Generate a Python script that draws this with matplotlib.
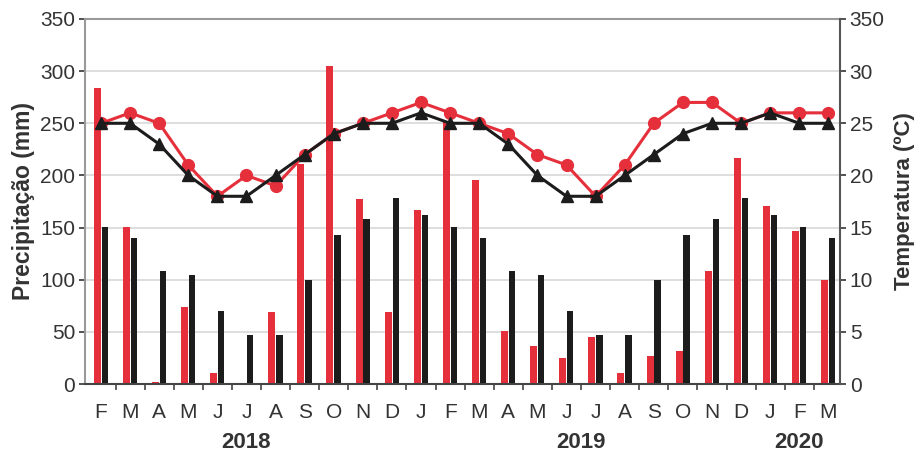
import matplotlib.pyplot as plt
import numpy as np

plt.rcParams['font.family'] = ['Liberation Sans', 'DejaVu Sans']

meses = ['F', 'M', 'A', 'M', 'J', 'J', 'A', 'S', 'O', 'N', 'D', 'J',
         'F', 'M', 'A', 'M', 'J', 'J', 'A', 'S', 'O', 'N', 'D', 'J',
         'F', 'M']

# precipitação observada e média histórica (mm)
prec_obs = [284, 151, 2, 74, 11, 1, 69, 211, 305, 177, 69, 167,
            252, 196, 51, 36, 25, 45, 11, 27, 32, 108, 217, 171,
            147, 100]
prec_hist = [151, 140, 108, 105, 70, 47, 47, 100, 143, 158, 178, 162,
             151, 140, 108, 105, 70, 47, 47, 100, 143, 158, 178, 162,
             151, 140]

# temperatura observada e média histórica (ºC)
temp_obs = [25, 26, 25, 21, 18, 20, 19, 22, 24, 25, 26, 27,
            26, 25, 24, 22, 21, 18, 21, 25, 27, 27, 25, 26,
            26, 26]
temp_hist = [25, 25, 23, 20, 18, 18, 20, 22, 24, 25, 25, 26,
             25, 25, 23, 20, 18, 18, 20, 22, 24, 25, 25, 26,
             25, 25]

anos = ['2018', '2019', '2020']
anos_pos = [5.0, 16.5, 24.0]

vermelho = '#e5303c'
preto = '#1c1c1c'

x = np.arange(len(meses))

fig = plt.figure(figsize=(9.22, 4.54), dpi=100)
ax = fig.add_axes([85 / 922, 70 / 454, 755 / 922, 365 / 454])
ax2 = ax.twinx()

ax.bar(x - 0.13, prec_obs, width=0.24, color=vermelho, zorder=2)
ax.bar(x + 0.13, prec_hist, width=0.22, color=preto, zorder=2)

ax.set_ylim(0, 350)
ax.set_yticks(np.arange(0, 351, 50))
ax.set_xlim(-0.55, len(meses) - 0.6)
ax.yaxis.grid(True, color='#d8d8d8', linewidth=1.2, zorder=0)
ax.set_axisbelow(True)

ax.set_xticks(x)
ax.set_xticklabels(meses)
ax.set_xticks(np.arange(0.5, len(meses) - 0.5, 1), minor=True)
ax.tick_params(axis='x', which='major', length=0, pad=14, labelsize=15, colors='#333333')
ax.tick_params(axis='x', which='minor', length=4, width=1.2, color='#444444')
ax.tick_params(axis='y', length=4, width=1.2, labelsize=15, colors='#333333', pad=3)

ax.set_ylabel('Precipitação (mm)', fontsize=16.5, fontweight='bold', color='#333333', labelpad=4)

for lado in ['left', 'top']:
    ax.spines[lado].set_color('#999999')
    ax.spines[lado].set_linewidth(1.5)
ax.spines['bottom'].set_color('#444444')
ax.spines['bottom'].set_linewidth(1.5)
ax.spines['right'].set_visible(False)

# temperaturas no eixo secundário
ax2.plot(x, temp_obs, color=vermelho, marker='o', markersize=8.5, linewidth=2.2, zorder=4)
ax2.plot(x, temp_hist, color=preto, marker='^', markersize=8.5, linewidth=2.2, zorder=5)
ax2.set_ylim(0, 35)
ax2.set_yticks(np.arange(0, 36, 5))
ax2.set_yticklabels(['0', '5', '10', '15', '20', '25', '30', '350'])
ax2.tick_params(axis='y', length=4, width=1.2, labelsize=15, colors='#333333', pad=3)
ax2.set_ylabel('Temperatura (ºC)', fontsize=16, fontweight='bold', color='#333333', labelpad=7)
ax2.spines['right'].set_color('#555555')
ax2.spines['right'].set_linewidth(1.5)
for lado in ['left', 'top', 'bottom']:
    ax2.spines[lado].set_visible(False)

for ano, pos in zip(anos, anos_pos):
    ax.text(pos, -0.16, ano, transform=ax.get_xaxis_transform(), ha='center', va='center',
            fontsize=16, fontweight='bold', color='#333333')

fig.savefig('out.png', dpi=100)
